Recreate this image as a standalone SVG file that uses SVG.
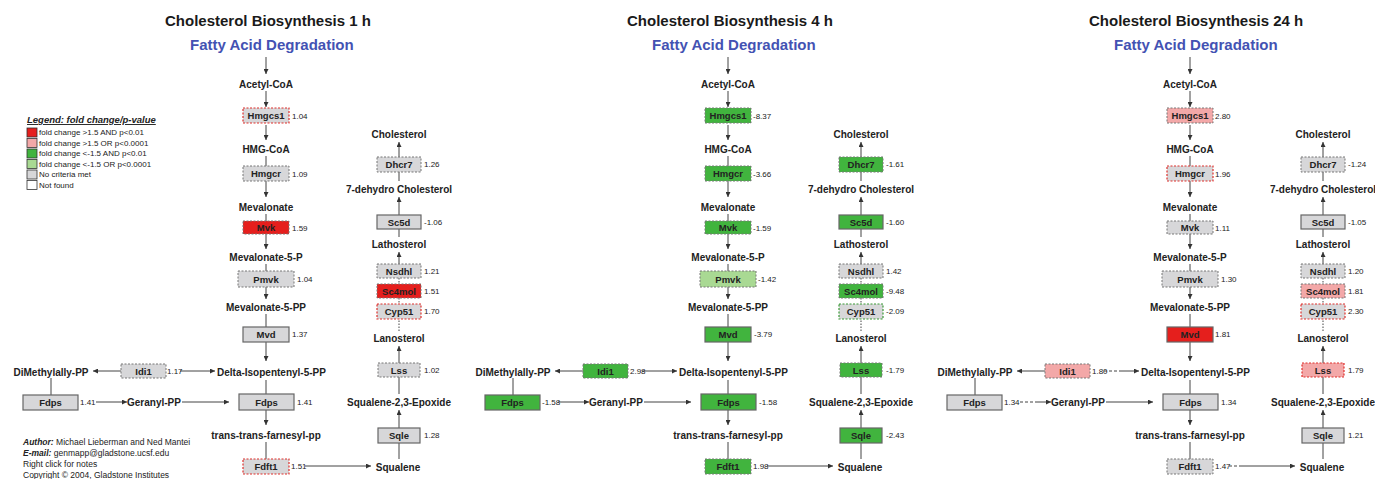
<svg xmlns="http://www.w3.org/2000/svg" width="1375" height="479" viewBox="0 0 1375 479">
<defs>
<marker id="ah" viewBox="0 0 10 10" refX="10" refY="5" markerWidth="6" markerHeight="5" orient="auto" markerUnits="userSpaceOnUse">
<path d="M0,0 L10,5 L0,10 z" fill="#333"/>
</marker>
<style>
text{font-family:"Liberation Sans",Arial,sans-serif;}
.t{font-size:15px;font-weight:bold;fill:#1a1a1a;}
.fa{font-size:15px;font-weight:bold;fill:#4352b3;}
.m{font-size:10px;font-weight:bold;fill:#222;text-anchor:middle;}
.ms{font-size:10px;font-weight:bold;fill:#222;}
.g{font-size:9.5px;font-weight:bold;fill:#222;text-anchor:middle;}
.v{font-size:8px;fill:#222;}
.ln{stroke:#444;stroke-width:1;fill:none;}
.ar{stroke:#444;stroke-width:1;fill:none;marker-end:url(#ah);}
.dt{stroke:#444;stroke-width:1;fill:none;stroke-dasharray:1.5,1.5;}
.dsh{stroke:#444;stroke-width:1;fill:none;stroke-dasharray:3,2;}
.gy{fill:#d7d7d9;}
.rd{fill:#e51f1d;}
.pk{fill:#f3a8a8;}
.gn{fill:#41b43e;}
.lg{fill:#a9d993;}
.so{stroke:#666;stroke-width:1.2;}
.da{stroke:#777;stroke-width:1;stroke-dasharray:2,1.5;}
.dr{stroke:#e0302c;stroke-width:1.2;stroke-dasharray:2,1.5;}
.dg{stroke:#3a9a36;stroke-width:1.2;stroke-dasharray:2,1.5;}
.lb{stroke:#333;stroke-width:0.8;}
.lt{font-size:8px;fill:#222;}
.au{font-size:8.5px;fill:#222;}
</style>
</defs>
<rect width="1375" height="479" fill="#fff"/>

<!-- Legend (panel 1 only) -->
<g id="legend">
<text x="27" y="123" style="font-size:9.5px;font-weight:bold;font-style:italic;fill:#222;text-decoration:underline">Legend: fold change/p-value</text>
<rect x="27" y="128" width="10" height="9" class="rd lb"/>
<text x="39" y="135" class="lt">fold change &gt;1.5 AND p&lt;0.01</text>
<rect x="27" y="138.5" width="10" height="9" class="pk lb"/>
<text x="39" y="145.5" class="lt">fold change &gt;1.5 OR p&lt;0.0001</text>
<rect x="27" y="149" width="10" height="9" class="gn lb"/>
<text x="39" y="156" class="lt">fold change &lt;-1.5 AND p&lt;0.01</text>
<rect x="27" y="159.5" width="10" height="9" class="lg lb"/>
<text x="39" y="166.5" class="lt">fold change &lt;-1.5 OR p&lt;0.0001</text>
<rect x="27" y="170" width="10" height="9" class="gy lb"/>
<text x="39" y="177" class="lt">No criteria met</text>
<rect x="27" y="180.5" width="10" height="9" fill="#fff" class="lb"/>
<text x="39" y="187.5" class="lt">Not found</text>
</g>

<g id="author">
<text x="23" y="445" class="au"><tspan font-weight="bold" font-style="italic">Author:</tspan> Michael Lieberman and Ned Mantei</text>
<text x="23" y="456" class="au"><tspan font-weight="bold" font-style="italic">E-mail:</tspan> genmapp@gladstone.ucsf.edu</text>
<text x="23" y="467" class="au">Right click for notes</text>
<text x="23" y="478" class="au">Copyright © 2004, Gladstone Institutes</text>
</g>

<!-- ================= PANEL 1 ================= -->
<g id="panel1">
<text x="165" y="26" class="t">Cholesterol Biosynthesis 1 h</text>
<g id="p1-connectors">
<path class="ar" d="M266,57 V74"/>
<path class="ar" d="M266,91 V107"/>
<path class="ar" d="M266,125 V140"/>
<path class="ln" d="M266,156 V166"/>
<path class="ar" d="M266,181 V197"/>
<path class="ln" d="M266,214 V221"/>
<path class="ar" d="M266,234 V249"/>
<path class="ln" d="M266,264 V271"/>
<path class="ar" d="M266,287 V299"/>
<path class="ln" d="M266,314 V327"/>
<path class="ar" d="M266,342 V361"/>
<path class="ln" d="M266,380 V394"/>
<path class="ar" d="M266,410 V425"/>
<path class="ln" d="M266,442 V459"/>
<path class="ar" d="M121,371 H93"/>
<path class="ar" d="M180,371 H215"/>
<path class="ln" d="M51,378 V395"/>
<path class="ar" d="M96,402 H127"/>
<path class="ar" d="M182,402 H229"/>
<path class="ar" d="M305,466 H371"/>
<path class="ln" d="M399,459 V443"/>
<path class="ar" d="M399,428 V410"/>
<path class="ln" d="M399,394 V377"/>
<path class="ar" d="M399,363 V346"/>
<path class="dt" d="M399,331 V319"/>
<path class="dt" d="M399,298 V304"/>
<path class="dt" d="M399,278 V284"/>
<path class="ar" d="M399,264 V252"/>
<path class="ln" d="M399,237 V229"/>
<path class="ar" d="M399,215 V197"/>
<path class="ln" d="M399,181 V172"/>
<path class="ar" d="M399,157 V142"/>
</g>
<g id="p1-fatty"><text x="190" y="50" class="fa">Fatty Acid Degradation</text></g>
<g id="p1-acetylcoa"><text x="266" y="87.5" class="m">Acetyl-CoA</text></g>
<g id="p1-hmgcoa"><text x="266" y="152.5" class="m">HMG-CoA</text></g>
<g id="p1-mevalonate"><text x="266" y="210.5" class="m">Mevalonate</text></g>
<g id="p1-mev5p"><text x="266" y="260.5" class="m">Mevalonate-5-P</text></g>
<g id="p1-mev5pp"><text x="266" y="310.5" class="m">Mevalonate-5-PP</text></g>
<g id="p1-delta"><text x="217" y="375.5" class="ms">Delta-Isopentenyl-5-PP</text></g>
<g id="p1-dimethyl"><text x="51" y="375.5" class="m">DiMethylally-PP</text></g>
<g id="p1-geranyl"><text x="154" y="405.5" class="m">Geranyl-PP</text></g>
<g id="p1-farnesyl"><text x="266" y="438.5" class="m">trans-trans-farnesyl-pp</text></g>
<g id="p1-squalene"><text x="398" y="470.5" class="m">Squalene</text></g>
<g id="p1-epoxide"><text x="399" y="405.5" class="m">Squalene-2,3-Epoxide</text></g>
<g id="p1-lanosterol"><text x="399" y="341.5" class="m">Lanosterol</text></g>
<g id="p1-lathosterol"><text x="399" y="247.5" class="m">Lathosterol</text></g>
<g id="p1-7dhc"><text x="399" y="192.5" class="m">7-dehydro Cholesterol</text></g>
<g id="p1-cholesterol"><text x="399" y="137.5" class="m">Cholesterol</text></g>

<g id="p1-hmgcs1"><rect x="243" y="108" width="46" height="15" class="gy dr"/><text x="266" y="119" class="g">Hmgcs1</text><text x="292" y="119" class="v">1.04</text></g>
<g id="p1-hmgcr"><rect x="243" y="166" width="46" height="15" class="gy da"/><text x="266" y="177" class="g">Hmgcr</text><text x="292" y="177" class="v">1.09</text></g>
<g id="p1-mvk"><rect x="243" y="221" width="46" height="13" class="rd da"/><text x="266" y="231" class="g">Mvk</text><text x="292" y="231" class="v">1.59</text></g>
<g id="p1-pmvk"><rect x="238" y="271" width="56" height="16" class="gy da"/><text x="266" y="282.5" class="g">Pmvk</text><text x="297" y="282" class="v">1.04</text></g>
<g id="p1-mvd"><rect x="243" y="327" width="46" height="15" class="gy so"/><text x="266" y="338" class="g">Mvd</text><text x="292" y="337" class="v">1.37</text></g>
<g id="p1-idi1"><rect x="121" y="364" width="45" height="14" class="gy da"/><text x="143.5" y="374.5" class="g">Idi1</text><text x="167" y="374" class="v">1.17</text></g>
<g id="p1-fdpsl"><rect x="23" y="395" width="55" height="15" class="gy so"/><text x="50.5" y="406" class="g">Fdps</text><text x="80" y="405" class="v">1.41</text></g>
<g id="p1-fdpsm"><rect x="239" y="394" width="55" height="16" class="gy so"/><text x="266.5" y="405.5" class="g">Fdps</text><text x="297" y="405" class="v">1.41</text></g>
<g id="p1-fdft1"><rect x="243" y="459" width="46" height="15" class="gy dr"/><text x="266" y="470" class="g">Fdft1</text><text x="291" y="469" class="v">1.51</text></g>
<g id="p1-sqle"><rect x="378" y="428" width="42" height="15" class="gy so"/><text x="399" y="439" class="g">Sqle</text><text x="424" y="438" class="v">1.28</text></g>
<g id="p1-lss"><rect x="378" y="363" width="42" height="14" class="gy da"/><text x="399" y="373.5" class="g">Lss</text><text x="424" y="373" class="v">1.02</text></g>
<g id="p1-cyp51"><rect x="377" y="304" width="44" height="15" class="gy dr"/><text x="399" y="315" class="g">Cyp51</text><text x="424" y="314" class="v">1.70</text></g>
<g id="p1-sc4mol"><rect x="377" y="284" width="44" height="14" class="rd da"/><text x="399" y="294.5" class="g">Sc4mol</text><text x="424" y="294" class="v">1.51</text></g>
<g id="p1-nsdhl"><rect x="377" y="264" width="44" height="14" class="gy da"/><text x="399" y="274.5" class="g">Nsdhl</text><text x="424" y="274" class="v">1.21</text></g>
<g id="p1-sc5d"><rect x="377" y="215" width="44" height="14" class="gy so"/><text x="399" y="225.5" class="g">Sc5d</text><text x="424" y="225" class="v">-1.06</text></g>
<g id="p1-dhcr7"><rect x="377" y="157" width="44" height="15" class="gy da"/><text x="399" y="168" class="g">Dhcr7</text><text x="424" y="167" class="v">1.26</text></g>
</g>

<!-- ================= PANEL 2 ================= -->
<g id="panel2" transform="translate(462,0)">
<text x="165" y="26" class="t">Cholesterol Biosynthesis 4 h</text>
<g id="p2-connectors">
<path class="ar" d="M266,57 V74"/>
<path class="ar" d="M266,91 V107"/>
<path class="ar" d="M266,125 V140"/>
<path class="ln" d="M266,156 V166"/>
<path class="ar" d="M266,181 V197"/>
<path class="ln" d="M266,214 V221"/>
<path class="ar" d="M266,234 V249"/>
<path class="ln" d="M266,264 V271"/>
<path class="ar" d="M266,287 V299"/>
<path class="ln" d="M266,314 V327"/>
<path class="ar" d="M266,342 V361"/>
<path class="ln" d="M266,380 V394"/>
<path class="ar" d="M266,410 V425"/>
<path class="ln" d="M266,442 V459"/>
<path class="ar" d="M121,371 H93"/>
<path class="ar" d="M180,371 H215"/>
<path class="ln" d="M51,378 V395"/>
<path class="ar" d="M96,402 H127"/>
<path class="ar" d="M182,402 H229"/>
<path class="ar" d="M305,466 H371"/>
<path class="ln" d="M399,459 V443"/>
<path class="ar" d="M399,428 V410"/>
<path class="ln" d="M399,394 V377"/>
<path class="ar" d="M399,363 V346"/>
<path class="dt" d="M399,331 V319"/>
<path class="dt" d="M399,298 V304"/>
<path class="dt" d="M399,278 V284"/>
<path class="ar" d="M399,264 V252"/>
<path class="ln" d="M399,237 V229"/>
<path class="ar" d="M399,215 V197"/>
<path class="ln" d="M399,181 V172"/>
<path class="ar" d="M399,157 V142"/>
</g>
<g id="p2-fatty"><text x="190" y="50" class="fa">Fatty Acid Degradation</text></g>
<g id="p2-acetylcoa"><text x="266" y="87.5" class="m">Acetyl-CoA</text></g>
<g id="p2-hmgcoa"><text x="266" y="152.5" class="m">HMG-CoA</text></g>
<g id="p2-mevalonate"><text x="266" y="210.5" class="m">Mevalonate</text></g>
<g id="p2-mev5p"><text x="266" y="260.5" class="m">Mevalonate-5-P</text></g>
<g id="p2-mev5pp"><text x="266" y="310.5" class="m">Mevalonate-5-PP</text></g>
<g id="p2-delta"><text x="217" y="375.5" class="ms">Delta-Isopentenyl-5-PP</text></g>
<g id="p2-dimethyl"><text x="51" y="375.5" class="m">DiMethylally-PP</text></g>
<g id="p2-geranyl"><text x="154" y="405.5" class="m">Geranyl-PP</text></g>
<g id="p2-farnesyl"><text x="266" y="438.5" class="m">trans-trans-farnesyl-pp</text></g>
<g id="p2-squalene"><text x="398" y="470.5" class="m">Squalene</text></g>
<g id="p2-epoxide"><text x="399" y="405.5" class="m">Squalene-2,3-Epoxide</text></g>
<g id="p2-lanosterol"><text x="399" y="341.5" class="m">Lanosterol</text></g>
<g id="p2-lathosterol"><text x="399" y="247.5" class="m">Lathosterol</text></g>
<g id="p2-7dhc"><text x="399" y="192.5" class="m">7-dehydro Cholesterol</text></g>
<g id="p2-cholesterol"><text x="399" y="137.5" class="m">Cholesterol</text></g>

<g id="p2-hmgcs1"><rect x="243" y="108" width="46" height="15" class="gn da"/><text x="266" y="119" class="g">Hmgcs1</text><text x="291" y="119" class="v">-8.37</text></g>
<g id="p2-hmgcr"><rect x="243" y="166" width="46" height="15" class="gn da"/><text x="266" y="177" class="g">Hmgcr</text><text x="291" y="177" class="v">-3.66</text></g>
<g id="p2-mvk"><rect x="243" y="221" width="46" height="13" class="gn da"/><text x="266" y="231" class="g">Mvk</text><text x="291" y="231" class="v">-1.59</text></g>
<g id="p2-pmvk"><rect x="238" y="271" width="56" height="16" class="lg da"/><text x="266" y="282.5" class="g">Pmvk</text><text x="296" y="282" class="v">-1.42</text></g>
<g id="p2-mvd"><rect x="243" y="327" width="46" height="15" class="gn so"/><text x="266" y="338" class="g">Mvd</text><text x="292" y="337" class="v">-3.79</text></g>
<g id="p2-idi1"><rect x="121" y="364" width="45" height="14" class="gn da"/><text x="143.5" y="374.5" class="g">Idi1</text><text x="168" y="374" class="v">2.98</text></g>
<g id="p2-fdpsl"><rect x="23" y="395" width="55" height="15" class="gn so"/><text x="50.5" y="406" class="g">Fdps</text><text x="80" y="405" class="v">-1.58</text></g>
<g id="p2-fdpsm"><rect x="239" y="394" width="55" height="16" class="gn so"/><text x="266.5" y="405.5" class="g">Fdps</text><text x="297" y="405" class="v">-1.58</text></g>
<g id="p2-fdft1"><rect x="243" y="459" width="46" height="15" class="gn da"/><text x="266" y="470" class="g">Fdft1</text><text x="291" y="469" class="v">1.98</text></g>
<g id="p2-sqle"><rect x="378" y="428" width="42" height="15" class="gn so"/><text x="399" y="439" class="g">Sqle</text><text x="424" y="438" class="v">-2.43</text></g>
<g id="p2-lss"><rect x="378" y="363" width="42" height="14" class="gn da"/><text x="399" y="373.5" class="g">Lss</text><text x="424" y="373" class="v">-1.79</text></g>
<g id="p2-cyp51"><rect x="377" y="304" width="44" height="15" class="gy dg"/><text x="399" y="315" class="g">Cyp51</text><text x="424" y="314" class="v">-2.09</text></g>
<g id="p2-sc4mol"><rect x="377" y="284" width="44" height="14" class="gn da"/><text x="399" y="294.5" class="g">Sc4mol</text><text x="424" y="294" class="v">-9.48</text></g>
<g id="p2-nsdhl"><rect x="377" y="264" width="44" height="14" class="gy da"/><text x="399" y="274.5" class="g">Nsdhl</text><text x="424" y="274" class="v">1.42</text></g>
<g id="p2-sc5d"><rect x="377" y="215" width="44" height="14" class="gn so"/><text x="399" y="225.5" class="g">Sc5d</text><text x="424" y="225" class="v">-1.60</text></g>
<g id="p2-dhcr7"><rect x="377" y="157" width="44" height="15" class="gn da"/><text x="399" y="168" class="g">Dhcr7</text><text x="424" y="167" class="v">-1.61</text></g>
</g>

<!-- ================= PANEL 3 ================= -->
<g id="panel3" transform="translate(924,0)">
<text x="165" y="26" class="t">Cholesterol Biosynthesis 24 h</text>
<g id="p3-connectors">
<path class="ar" d="M266,57 V74"/>
<path class="ar" d="M266,91 V107"/>
<path class="ar" d="M266,125 V140"/>
<path class="ln" d="M266,156 V166"/>
<path class="ar" d="M266,181 V197"/>
<path class="ln" d="M266,214 V221"/>
<path class="ar" d="M266,234 V249"/>
<path class="ln" d="M266,264 V271"/>
<path class="ar" d="M266,287 V299"/>
<path class="ln" d="M266,314 V327"/>
<path class="ar" d="M266,342 V361"/>
<path class="ln" d="M266,380 V394"/>
<path class="ar" d="M266,410 V425"/>
<path class="ln" d="M266,442 V459"/>
<path class="ar" d="M121,371 H93"/>
<path class="dsh" d="M180,371 H195"/>
<path class="ar" d="M195,371 H215"/>
<path class="ln" d="M51,378 V395"/>
<path class="dsh" d="M96,402 H111"/>
<path class="ar" d="M111,402 H127"/>
<path class="ar" d="M182,402 H229"/>
<path class="dsh" d="M305,466 H318"/>
<path class="ar" d="M318,466 H371"/>
<path class="ln" d="M399,459 V443"/>
<path class="ar" d="M399,428 V410"/>
<path class="ln" d="M399,394 V377"/>
<path class="ar" d="M399,363 V346"/>
<path class="dt" d="M399,331 V319"/>
<path class="dt" d="M399,298 V304"/>
<path class="dt" d="M399,278 V284"/>
<path class="ar" d="M399,264 V252"/>
<path class="ln" d="M399,237 V229"/>
<path class="ar" d="M399,215 V197"/>
<path class="ln" d="M399,181 V172"/>
<path class="ar" d="M399,157 V142"/>
</g>
<g id="p3-fatty"><text x="190" y="50" class="fa">Fatty Acid Degradation</text></g>
<g id="p3-acetylcoa"><text x="266" y="87.5" class="m">Acetyl-CoA</text></g>
<g id="p3-hmgcoa"><text x="266" y="152.5" class="m">HMG-CoA</text></g>
<g id="p3-mevalonate"><text x="266" y="210.5" class="m">Mevalonate</text></g>
<g id="p3-mev5p"><text x="266" y="260.5" class="m">Mevalonate-5-P</text></g>
<g id="p3-mev5pp"><text x="266" y="310.5" class="m">Mevalonate-5-PP</text></g>
<g id="p3-delta"><text x="217" y="375.5" class="ms">Delta-Isopentenyl-5-PP</text></g>
<g id="p3-dimethyl"><text x="51" y="375.5" class="m">DiMethylally-PP</text></g>
<g id="p3-geranyl"><text x="154" y="405.5" class="m">Geranyl-PP</text></g>
<g id="p3-farnesyl"><text x="266" y="438.5" class="m">trans-trans-farnesyl-pp</text></g>
<g id="p3-squalene"><text x="398" y="470.5" class="m">Squalene</text></g>
<g id="p3-epoxide"><text x="399" y="405.5" class="m">Squalene-2,3-Epoxide</text></g>
<g id="p3-lanosterol"><text x="399" y="341.5" class="m">Lanosterol</text></g>
<g id="p3-lathosterol"><text x="399" y="247.5" class="m">Lathosterol</text></g>
<g id="p3-7dhc"><text x="399" y="192.5" class="m">7-dehydro Cholesterol</text></g>
<g id="p3-cholesterol"><text x="399" y="137.5" class="m">Cholesterol</text></g>

<g id="p3-hmgcs1"><rect x="243" y="108" width="46" height="15" class="pk da"/><text x="266" y="119" class="g">Hmgcs1</text><text x="291" y="119" class="v">2.80</text></g>
<g id="p3-hmgcr"><rect x="243" y="166" width="46" height="15" class="gy dr"/><text x="266" y="177" class="g">Hmgcr</text><text x="291" y="177" class="v">1.96</text></g>
<g id="p3-mvk"><rect x="243" y="221" width="46" height="13" class="gy da"/><text x="266" y="231" class="g">Mvk</text><text x="291" y="231" class="v">1.11</text></g>
<g id="p3-pmvk"><rect x="238" y="271" width="56" height="16" class="gy da"/><text x="266" y="282.5" class="g">Pmvk</text><text x="297" y="282" class="v">1.30</text></g>
<g id="p3-mvd"><rect x="243" y="327" width="46" height="15" class="rd so"/><text x="266" y="338" class="g">Mvd</text><text x="291" y="337" class="v">1.81</text></g>
<g id="p3-idi1"><rect x="121" y="364" width="45" height="14" class="pk da"/><text x="143.5" y="374.5" class="g">Idi1</text><text x="168" y="374" class="v">1.80</text></g>
<g id="p3-fdpsl"><rect x="23" y="395" width="55" height="15" class="gy so"/><text x="50.5" y="406" class="g">Fdps</text><text x="80" y="405" class="v">1.34</text></g>
<g id="p3-fdpsm"><rect x="239" y="394" width="55" height="16" class="gy so"/><text x="266.5" y="405.5" class="g">Fdps</text><text x="297" y="405" class="v">1.34</text></g>
<g id="p3-fdft1"><rect x="243" y="459" width="46" height="15" class="gy da"/><text x="266" y="470" class="g">Fdft1</text><text x="291" y="469" class="v">1.47</text></g>
<g id="p3-sqle"><rect x="378" y="428" width="42" height="15" class="gy so"/><text x="399" y="439" class="g">Sqle</text><text x="424" y="438" class="v">1.21</text></g>
<g id="p3-lss"><rect x="378" y="363" width="42" height="14" class="pk dr"/><text x="399" y="373.5" class="g">Lss</text><text x="424" y="373" class="v">1.79</text></g>
<g id="p3-cyp51"><rect x="377" y="304" width="44" height="15" class="gy dr"/><text x="399" y="315" class="g">Cyp51</text><text x="424" y="314" class="v">2.30</text></g>
<g id="p3-sc4mol"><rect x="377" y="284" width="44" height="14" class="pk da"/><text x="399" y="294.5" class="g">Sc4mol</text><text x="424" y="294" class="v">1.81</text></g>
<g id="p3-nsdhl"><rect x="377" y="264" width="44" height="14" class="gy da"/><text x="399" y="274.5" class="g">Nsdhl</text><text x="424" y="274" class="v">1.20</text></g>
<g id="p3-sc5d"><rect x="377" y="215" width="44" height="14" class="gy so"/><text x="399" y="225.5" class="g">Sc5d</text><text x="424" y="225" class="v">-1.05</text></g>
<g id="p3-dhcr7"><rect x="377" y="157" width="44" height="15" class="gy da"/><text x="399" y="168" class="g">Dhcr7</text><text x="424" y="167" class="v">-1.24</text></g>
</g>
</svg>
